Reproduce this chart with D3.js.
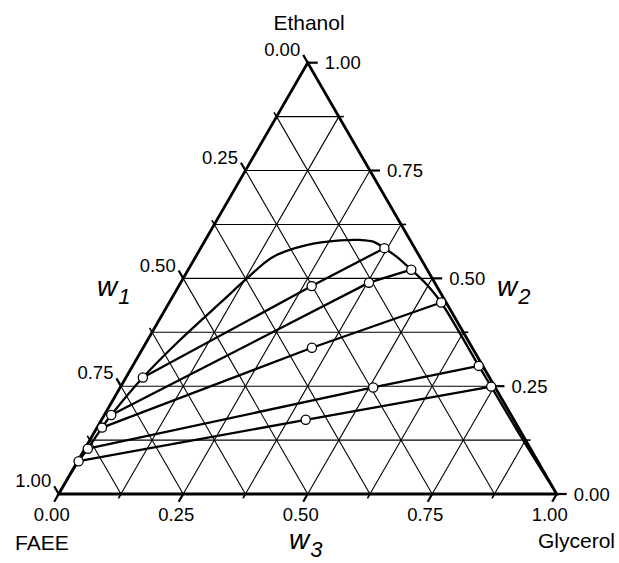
<!DOCTYPE html>
<html>
<head>
<meta charset="utf-8">
<script src="https://cdn.jsdelivr.net/npm/d3@7"></script>
<style>
body { margin: 0; background: #fff; }
text { font-family: "Liberation Sans", Arial, sans-serif; fill: #000; }
</style>
</head>
<body>
<svg id="chart" width="619" height="563"></svg>
<script>
// ternary values: each point is given as ethanol (w2) and glycerol (w3), FAEE (w1) = 1 - both
var majorTicks = [0, 0.25, 0.5, 0.75, 1];
var minorTicks = [0.125, 0.375, 0.625, 0.875];
var tickLabels = ["0.00", "0.25", "0.50", "0.75", "1.00"];
var gridVals = [0.125, 0.25, 0.375, 0.5, 0.625, 0.75, 0.875];

// FAEE-rich phase (left side)
var leftEth = [0.270, 0.183, 0.154, 0.105, 0.076];
var leftGly = [0.034, 0.014, 0.010, 0.006, 0.002];
// glycerol-rich phase (right side)
var rightEth = [0.570, 0.520, 0.444, 0.297, 0.249];
var rightGly = [0.369, 0.448, 0.546, 0.695, 0.744];
// overall (feed) compositions
var feedEth = [0.482, 0.490, 0.339, 0.247, 0.172];
var feedGly = [0.267, 0.378, 0.339, 0.508, 0.410];

// binodal curve, FAEE corner -> Glycerol corner
var curveEth = [0, 0.076, 0.105, 0.154, 0.183, 0.270, 0.357, 0.450, 0.500, 0.550, 0.577, 0.588, 0.589, 0.585, 0.570, 0.550, 0.520, 0.485, 0.444, 0.297, 0.249, 0.120, 0];
var curveGly = [0, 0.002, 0.006, 0.010, 0.014, 0.034, 0.065, 0.106, 0.128, 0.156, 0.209, 0.271, 0.311, 0.339, 0.369, 0.404, 0.448, 0.497, 0.546, 0.695, 0.744, 0.875, 1];

var svg = d3.select("#chart");

// cartesian frame of the triangle
var u = d3.scaleLinear().domain([0, 1]).range([58.7, 556.7]);
var v = d3.scaleLinear().domain([0, 1]).range([494, 62.7]);

function pt(eth, gly) {
	return [u(gly + eth / 2), v(eth)];
}

var line = d3.line();

// grid
var grid = svg.append("g").attr("stroke", "#000").attr("stroke-width", 1.1).attr("fill", "none");
gridVals.forEach(function (g) {
	grid.append("path").attr("d", line([pt(g, 0), pt(g, 1 - g)]));       // const ethanol
	grid.append("path").attr("d", line([pt(0, g), pt(1 - g, g)]));       // const glycerol
	grid.append("path").attr("d", line([pt(1 - g, 0), pt(0, 1 - g)]));   // const FAEE
});

// ticks
var ticks = svg.append("g").attr("stroke", "#000").attr("fill", "none");
function drawTick(p, dir, len, w) {
	ticks.append("path").attr("stroke-width", w)
		.attr("d", line([p, [p[0] + dir[0] * len, p[1] + dir[1] * len]]));
}
var dLeft = [-0.5, -0.866], dRight = [1, 0], dBottom = [-0.5, 0.866];
majorTicks.forEach(function (t, i) {
	var a = pt(1 - t, 0), b = pt(t, 1 - t), c = pt(0, t);
	drawTick(a, dLeft, 9, 2.2);
	drawTick(b, dRight, 10, 2.2);
	drawTick(c, dBottom, 9, 2.2);

	svg.append("text").attr("x", a[0] - 4.5 - 3).attr("y", a[1] - 7.8 + 1)
		.attr("text-anchor", "end").attr("font-size", 18.5).text(tickLabels[i]);
	svg.append("text").attr("x", b[0] + 17).attr("y", b[1] + 6.5)
		.attr("font-size", 18.5).text(tickLabels[i]);
	svg.append("text").attr("x", c[0] - 7).attr("y", 521)
		.attr("text-anchor", "middle").attr("font-size", 18.5).text(tickLabels[i]);
});
minorTicks.forEach(function (t) {
	drawTick(pt(1 - t, 0), dLeft, 5, 1.6);
	drawTick(pt(t, 1 - t), dRight, 5, 1.6);
	drawTick(pt(0, t), dBottom, 5, 1.6);
});

// triangle
svg.append("path")
	.attr("d", line([pt(0, 0), pt(1, 0), pt(0, 1)]) + "Z")
	.attr("fill", "none").attr("stroke", "#000").attr("stroke-width", 2.8)
	.attr("stroke-linejoin", "miter");

// binodal curve
var curvePts = curveEth.map(function (e, i) { return pt(e, curveGly[i]); });
svg.append("path")
	.attr("d", d3.line().curve(d3.curveCatmullRom.alpha(0.5))(curvePts))
	.attr("fill", "none").attr("stroke", "#000").attr("stroke-width", 2.3);

// tie lines through the feed points
leftEth.forEach(function (e, i) {
	svg.append("path")
		.attr("d", line([pt(e, leftGly[i]), pt(feedEth[i], feedGly[i]), pt(rightEth[i], rightGly[i])]))
		.attr("fill", "none").attr("stroke", "#000").attr("stroke-width", 2.3);
});

// points
var allPts = [];
leftEth.forEach(function (e, i) { allPts.push(pt(e, leftGly[i])); });
rightEth.forEach(function (e, i) { allPts.push(pt(e, rightGly[i])); });
feedEth.forEach(function (e, i) { allPts.push(pt(e, feedGly[i])); });
svg.selectAll("circle.pt").data(allPts).enter().append("circle")
	.attr("class", "pt")
	.attr("cx", function (d) { return d[0]; })
	.attr("cy", function (d) { return d[1]; })
	.attr("r", 4.6)
	.attr("fill", "#fff").attr("stroke", "#000").attr("stroke-width", 1.3);

// component names
svg.append("text").attr("x", 309).attr("y", 30).attr("text-anchor", "middle").attr("font-size", 21).text("Ethanol");
svg.append("text").attr("x", 15).attr("y", 550).attr("font-size", 21).text("FAEE");
svg.append("text").attr("x", 538).attr("y", 548).attr("font-size", 21).text("Glycerol");

// axis names
function axisName(x, y, sub) {
	var t = svg.append("text").attr("x", x).attr("y", y).attr("font-style", "italic").attr("font-size", 28);
	t.append("tspan").text("w");
	t.append("tspan").attr("font-size", 22).attr("dy", 8).attr("dx", 1).text(sub);
}
axisName(97, 296, "1");
axisName(497, 296, "2");
axisName(289, 549, "3");
</script>
</body>
</html>
